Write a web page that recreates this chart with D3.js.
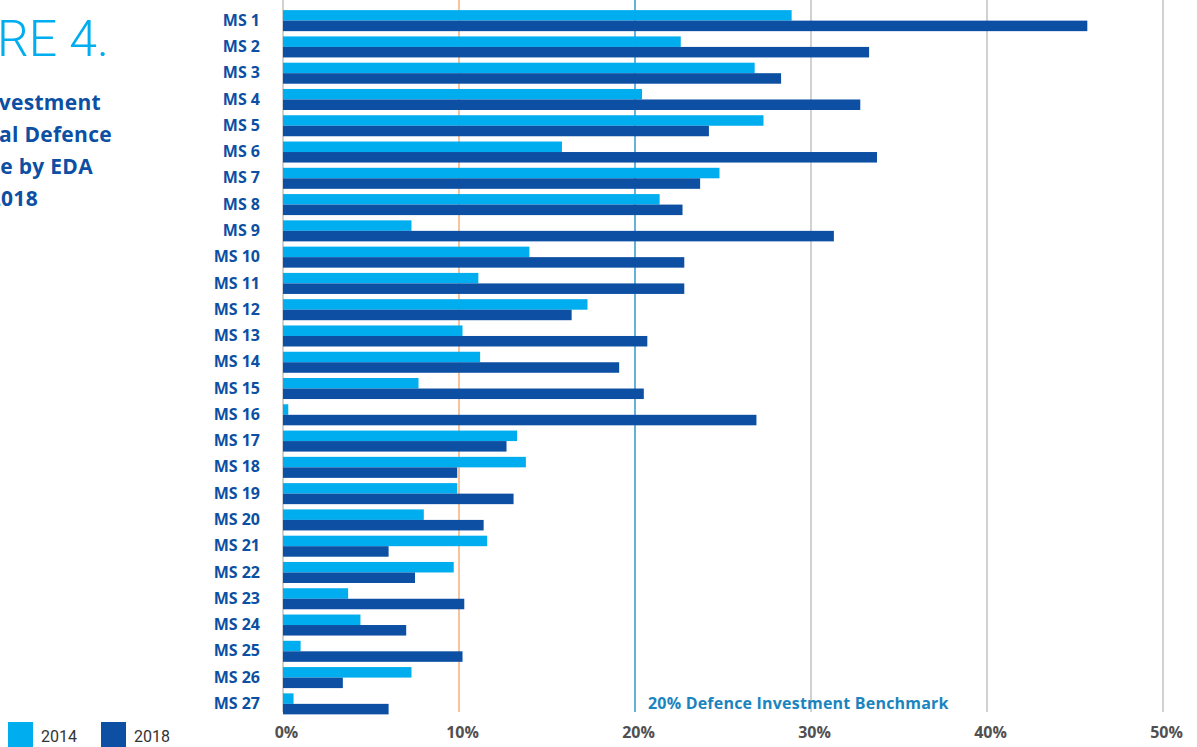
<!DOCTYPE html>
<html>
<head>
<meta charset="utf-8">
<script src="https://cdn.jsdelivr.net/npm/d3@7"></script>
<style>
  body { margin: 0; background: #fff; overflow: hidden; }
  svg { display: block; font-family: "Open Sans", Roboto, sans-serif; }
</style>
</head>
<body>
<svg width="1197" height="747"></svg>
<script>
    // data
    var categories = ["MS 1", "MS 2", "MS 3", "MS 4", "MS 5", "MS 6", "MS 7", "MS 8", "MS 9",
        "MS 10", "MS 11", "MS 12", "MS 13", "MS 14", "MS 15", "MS 16", "MS 17", "MS 18",
        "MS 19", "MS 20", "MS 21", "MS 22", "MS 23", "MS 24", "MS 25", "MS 26", "MS 27"];
    var values2014 = [28.9, 22.6, 26.8, 20.4, 27.3, 15.85, 24.8, 21.4, 7.3,
        14.0, 11.1, 17.3, 10.2, 11.2, 7.7, 0.3, 13.3, 13.8,
        9.9, 8.0, 11.6, 9.7, 3.7, 4.4, 1.0, 7.3, 0.6];
    var values2018 = [45.7, 33.3, 28.3, 32.8, 24.2, 33.75, 23.7, 22.7, 31.3,
        22.8, 22.8, 16.4, 20.7, 19.1, 20.5, 26.9, 12.7, 9.9,
        13.1, 11.4, 6.0, 7.5, 10.3, 7.0, 10.2, 3.4, 6.0];
    var seriesNames = ["2014", "2018"];
    var ticks = [0, 10, 20, 30, 40, 50];
    var benchmark = 20;

    var colors = { "2014": "#00adef", "2018": "#0c4fa3" };

    var svg = d3.select("svg");

    var x = d3.scaleLinear().domain([0, 50]).range([283, 1163]);
    var y = d3.scaleBand().domain(categories).range([7.5, 717]).paddingInner(0.2).paddingOuter(0.1);

    // gridlines
    var grid = svg.append("g");
    grid.selectAll("line")
        .data(ticks)
        .enter()
        .append("line")
        .attr("x1", function (d) { return x(d); })
        .attr("x2", function (d) { return x(d); })
        .attr("y1", 0)
        .attr("y2", 712)
        .attr("stroke", function (d) {
            if (d === 10) return "#f5b482";
            if (d === 20) return "#3f9fcf";
            return "#b3b3b3";
        })
        .attr("stroke-width", function (d) { return d === 10 || d === 20 ? 1.6 : 1.2; });

    // bars
    var rows = categories.map(function (c, i) {
        return { name: c, v2014: values2014[i], v2018: values2018[i] };
    });
    var half = y.bandwidth() / 2;

    var g = svg.append("g");
    g.selectAll(".b2014")
        .data(rows)
        .enter()
        .append("rect")
        .attr("class", "b2014")
        .attr("x", x(0))
        .attr("y", function (d) { return y(d.name); })
        .attr("width", function (d) { return x(d.v2014) - x(0); })
        .attr("height", half)
        .attr("fill", colors["2014"]);
    g.selectAll(".b2018")
        .data(rows)
        .enter()
        .append("rect")
        .attr("class", "b2018")
        .attr("x", x(0))
        .attr("y", function (d) { return y(d.name) + half; })
        .attr("width", function (d) { return x(d.v2018) - x(0); })
        .attr("height", half)
        .attr("fill", colors["2018"]);

    // category labels
    var yAxis = d3.axisLeft(y).tickSize(0).tickPadding(0);
    var ya = svg.append("g")
        .attr("transform", "translate(260,0)")
        .call(yAxis);
    ya.select(".domain").remove();
    ya.selectAll("text")
        .attr("fill", "#0c4fa3")
        .attr("font-size", "16px")
        .attr("font-weight", "bold")
        .attr("font-family", "'Open Sans', sans-serif");

    // x axis labels
    var xAxis = d3.axisBottom(x).tickValues(ticks).tickSize(0).tickPadding(0)
        .tickFormat(function (d) { return d + "%"; });
    var xa = svg.append("g")
        .attr("transform", "translate(3,727)")
        .call(xAxis);
    xa.select(".domain").remove();
    xa.selectAll("text")
        .attr("fill", "#505050")
        .attr("font-size", "16px")
        .attr("font-weight", "bold")
        .attr("font-family", "'Open Sans', sans-serif");

    // benchmark label
    svg.append("text")
        .attr("x", x(benchmark) + 13)
        .attr("y", 709)
        .attr("fill", "#1a84be")
        .attr("font-size", "16px")
        .attr("font-weight", "bold")
        .attr("letter-spacing", "0.2px")
        .text("20% Defence Investment Benchmark");

    // title (cut off on the left as in the original)
    svg.append("text")
        .attr("x", 109)
        .attr("y", 56)
        .attr("text-anchor", "end")
        .attr("fill", "#00adef")
        .attr("font-size", "50px")
        .attr("font-weight", 300)
        .attr("font-family", "Roboto, sans-serif")
        .text("FIGURE 4.");

    var sub = ["Defence Investment", "as share of total Defence", "Expenditure by EDA", "pMS, 2014 vs 2018"];
    svg.append("g").selectAll("text")
        .data(sub)
        .enter()
        .append("text")
        .attr("x", function (d, i) { return [101, 112, 93, 38][i]; })
        .attr("y", function (d, i) { return 110 + i * 32; })
        .attr("text-anchor", "end")
        .attr("fill", "#0c4fa3")
        .attr("font-size", "21px")
        .attr("font-weight", "bold")
        .attr("letter-spacing", "0.3px")
        .text(function (d) { return d; });

    // legend
    var leg = svg.append("g").selectAll("g")
        .data(seriesNames)
        .enter()
        .append("g")
        .attr("transform", function (d, i) { return "translate(" + (8 + i * 93) + ",722)"; });
    leg.append("rect")
        .attr("width", 25)
        .attr("height", 25)
        .attr("fill", function (d) { return colors[d]; });
    leg.append("text")
        .attr("x", 33)
        .attr("y", 20)
        .attr("fill", "#333")
        .attr("font-size", "16px")
        .attr("font-family", "Roboto, sans-serif")
        .text(function (d) { return d; });
</script>
</body>
</html>
